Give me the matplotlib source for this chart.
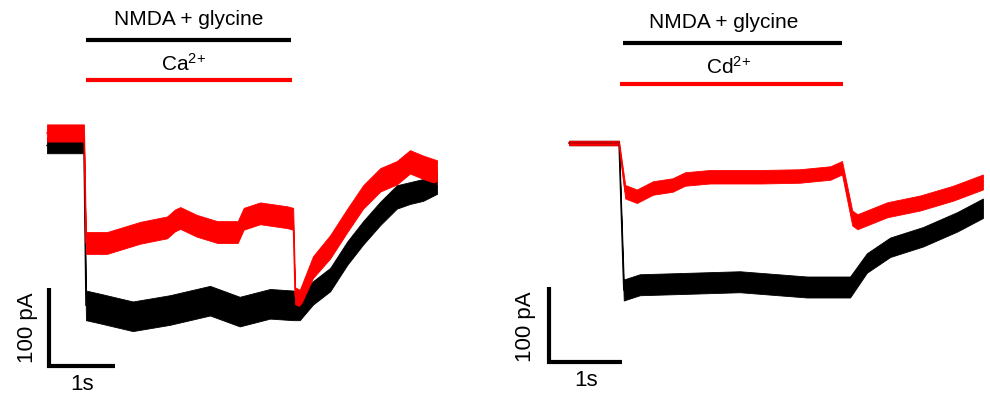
import numpy as np
import matplotlib
matplotlib.use('Agg')
import matplotlib.pyplot as plt

plt.rcParams['font.family'] = ['Liberation Sans', 'DejaVu Sans']
plt.rcParams['mathtext.default'] = 'regular'

# ---- left panel: NMDA + glycine with / without Ca2+ (time in s, current in pA)
ca_t = [0.0, 0.56, 0.59, 0.91, 1.41, 1.82, 1.94, 2.02, 2.27, 2.58, 2.89, 2.98,
        3.23, 3.64, 3.73, 3.76, 3.83, 4.03, 4.29, 4.55, 4.79, 5.05, 5.30, 5.50, 5.70, 5.91]
ca_red = [9, 9, -132, -132, -119, -112, -103, -100, -110, -118, -118, -101,
          -94, -99, -101, -200, -203, -163, -137, -103, -73, -51, -42, -28, -35, -41]
ca_red_noise = [11, 11, 14, 14, 14, 14, 14, 14, 14, 14, 14, 14,
                14, 14, 14, 11, 11, 14, 15, 15, 15, 15, 15, 15, 15, 15]

ctl1_t = [0.0, 0.56, 0.59, 0.80, 1.30, 1.86, 2.47, 2.92, 3.38, 3.73, 3.83, 4.03,
          4.29, 4.55, 4.79, 5.05, 5.30, 5.50, 5.70, 5.91]
ctl1_black = [-7, -7, -212, -216, -226, -218, -206, -220, -210, -212, -215, -196,
              -179, -145, -119, -94, -73, -68, -64, -55]
ctl1_noise = [10, 10, 19, 19, 19, 19, 19, 19, 19, 19, 16, 15,
              15, 15, 15, 15, 15, 14, 14, 14]

# ---- right panel: NMDA + glycine with / without Cd2+
cd_t = [0.0, 0.685, 0.77, 0.93, 1.15, 1.42, 1.59, 1.93, 2.62, 3.16, 3.58, 3.74,
        3.88, 3.95, 4.36, 4.81, 5.26, 5.67]
cd_red = [0, 0, -65, -71, -60, -56, -48, -45, -45, -44, -40, -33,
          -100, -105, -89, -80, -67, -52]
cd_red_noise = [3, 3, 9, 9, 9, 9, 9, 9, 9, 9, 9, 9, 10, 10, 10, 10, 10, 10]

ctl2_t = [0.0, 0.685, 0.75, 0.97, 1.66, 2.34, 3.26, 3.85, 4.08, 4.40, 4.85, 5.32, 5.67]
ctl2_black = [0, 0, -196, -189, -187, -185, -192, -192, -160, -139, -125, -105, -87]
ctl2_noise = [3, 3, 14, 14, 14, 14, 14, 14, 13, 13, 13, 13, 13]

W, H = 990, 395


def make_panel(fig, px_left, px_right, x0, px_per_s, y0, px_per_pA):
    ax = fig.add_axes([px_left / W, 0, (px_right - px_left) / W, 1])
    ax.set_xlim((px_left - x0) / px_per_s, (px_right - x0) / px_per_s)
    ax.set_ylim((y0 - H) / px_per_pA, y0 / px_per_pA)
    ax.axis('off')
    return ax


def trace(ax, t, v, noise, color):
    t = np.array(t, dtype=float)
    v = np.array(v, dtype=float)
    n = np.array(noise, dtype=float)
    ax.fill_between(t, v - n, v + n, color=color, lw=0.6, zorder=2)
    ax.plot(t, v, color=color, lw=1.0, zorder=3)


def scale_bar(ax, x, y, label_x, label_y, s_x, s_y):
    ax.plot([x, x, x + 1], [y + 100, y, y], color='black', lw=3,
            solid_joinstyle='miter', solid_capstyle='butt')
    ax.text(label_x, label_y, '100 pA', rotation=90, ha='center', va='center', fontsize=16)
    ax.text(s_x, s_y, '1s', ha='center', va='center', fontsize=16)


def drug_bars(ax, black_span, black_y, red_span, red_y, text_xy, ion, ion_xy):
    ax.plot(black_span, [black_y, black_y], color='black', lw=3, solid_capstyle='butt')
    ax.plot(red_span, [red_y, red_y], color='#ff0000', lw=3, solid_capstyle='butt')
    ax.text(text_xy[0], text_xy[1], 'NMDA + glycine', ha='center', va='center', fontsize=15)
    ax.text(ion_xy[0], ion_xy[1], ion, ha='center', va='center', fontsize=15)


fig = plt.figure(figsize=(9.9, 3.95), dpi=100)

ax1 = make_panel(fig, 0, 480, 47, 66, 140, 0.78)
trace(ax1, ctl1_t, ctl1_black, ctl1_noise, 'black')
trace(ax1, ca_t, ca_red, ca_red_noise, '#ff0000')
scale_bar(ax1, 0.03, -290, -0.30, -241, 0.53, -313)
drug_bars(ax1, [0.59, 3.70], 128, [0.59, 3.71], 77, (2.15, 154), 'Ca$^{2{+}}$', (2.06, 97))

ax2 = make_panel(fig, 495, 990, 569, 73, 143, 0.75)
trace(ax2, ctl2_t, ctl2_black, ctl2_noise, 'black')
trace(ax2, cd_t, cd_red, cd_red_noise, '#ff0000')
scale_bar(ax2, -0.27, -292, -0.60, -245, 0.23, -316)
drug_bars(ax2, [0.74, 3.74], 133, [0.70, 3.75], 79, (2.12, 161), 'Cd$^{2{+}}$', (2.18, 102))

fig.savefig('out.png', dpi=100)
